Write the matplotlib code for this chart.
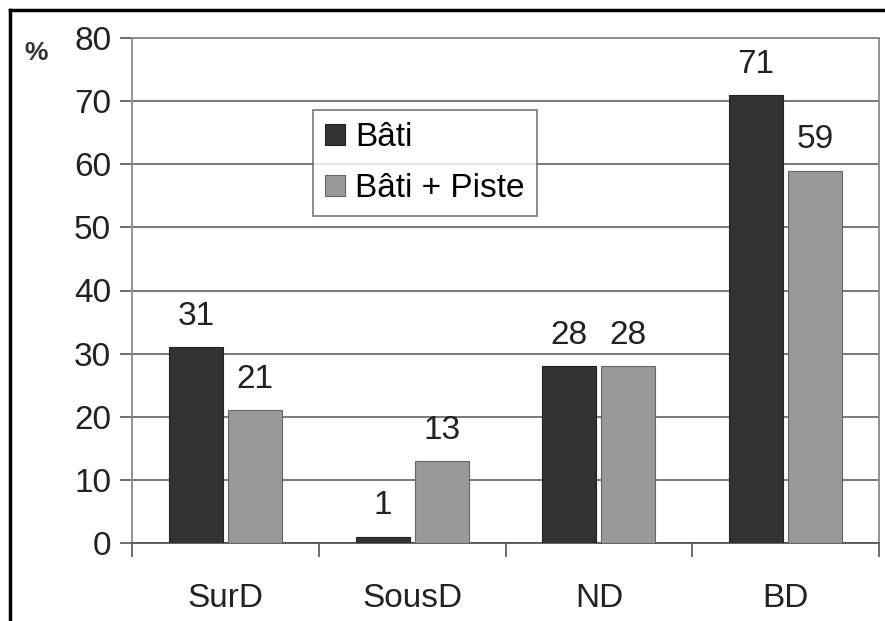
import numpy as np
import matplotlib
matplotlib.use("Agg")
import matplotlib.pyplot as plt  # noqa: E402
from matplotlib.lines import Line2D  # noqa: E402

categories = ["SurD", "SousD", "ND", "BD"]
bati = [31, 1, 28, 71]
bati_piste = [21, 13, 28, 59]
series_names = ["Bâti", "Bâti + Piste"]
yticks = [0, 10, 20, 30, 40, 50, 60, 70, 80]

plt.rcParams["font.family"] = ["Liberation Sans", "DejaVu Sans"]
FS = 24

W, H = 885, 621
fig = plt.figure(figsize=(W / 100, H / 100), dpi=100)
ax = fig.add_axes([132 / W, 1 - 543 / H, (879 - 132) / W, (543 - 38) / H])

x = np.arange(len(categories))
bw = 0.29
off = 0.158
b1 = ax.bar(x - off, bati, bw, color="#333333", edgecolor="#222222", lw=0.8,
            label=series_names[0], zorder=3)
b2 = ax.bar(x + off, bati_piste, bw, color="#999999", edgecolor="#666666", lw=0.8,
            label=series_names[1], zorder=3)

for bars, vals in ((b1, bati), (b2, bati_piste)):
    for r, v in zip(bars, vals):
        ax.annotate(str(v), (r.get_x() + r.get_width() / 2, v), xytext=(0, 16),
                    textcoords="offset points", ha="center", va="baseline",
                    fontsize=FS, color="#222222")

ax.set_xlim(-0.5, len(categories) - 0.5)
ax.set_ylim(0, 80)
ax.set_yticks(yticks)
ax.tick_params(axis="y", labelsize=FS, length=9, width=1.2, color="#555555",
               pad=6, labelcolor="#222222")
ax.set_xticks(x)
ax.set_xticklabels(categories)
ax.set_xticks(np.arange(len(categories) + 1) - 0.5, minor=True)
ax.tick_params(axis="x", which="major", length=0, labelsize=FS, pad=29,
               labelcolor="#222222")
ax.tick_params(axis="x", which="minor", length=10, width=1.2, color="#555555")

ax.grid(axis="y", color="#6e6e6e", lw=1.3, zorder=0)
for s in ("top", "right", "left"):
    ax.spines[s].set_color("#8a8a8a")
    ax.spines[s].set_linewidth(1.3)
ax.spines["bottom"].set_color("#555555")
ax.spines["bottom"].set_linewidth(1.3)

ax.text(-0.128, 0.97, "%", transform=ax.transAxes, fontsize=19, fontweight="bold",
        ha="center", va="center", color="#333333")

leg = ax.legend(loc="upper left", bbox_to_anchor=((313 - 132) / (879 - 132), (543 - 110) / 505),
                fontsize=FS, frameon=True, fancybox=False, handlelength=0.6,
                handleheight=0.6, handletextpad=0.3, borderpad=0.36, labelspacing=0.6,
                borderaxespad=0)
leg.get_frame().set_edgecolor("#555555")
leg.get_frame().set_linewidth(1.2)

# outer frame (top and left edges)
fig.add_artist(Line2D([9.5 / W, 9.5 / W], [0, 1 - 9.5 / H], transform=fig.transFigure,
                      color="black", lw=2.5))
fig.add_artist(Line2D([9.5 / W, 1], [1 - 9.5 / H, 1 - 9.5 / H], transform=fig.transFigure,
                      color="black", lw=2.5))

fig.savefig("out.png", dpi=100)
